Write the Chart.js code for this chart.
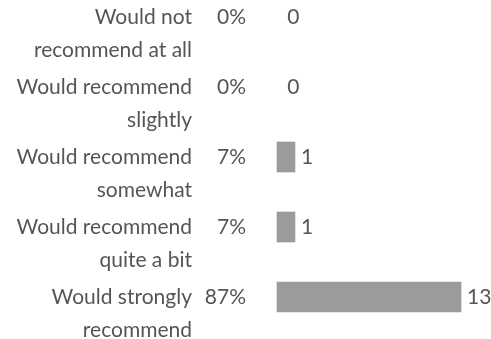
<!DOCTYPE html>
<html>
<head>
<meta charset="utf-8">
<script src="https://cdn.jsdelivr.net/npm/chart.js@4/dist/chart.umd.min.js"></script>
<style>
  html, body { margin: 0; padding: 0; background: #ffffff; }
  #wrap { width: 491px; height: 339px; position: relative; }
</style>
</head>
<body>
<div id="wrap"><canvas id="chart"></canvas></div>
<script>
// Answer options, each split over two lines
const categories = [
  ['Would not', 'recommend at all'],
  ['Would recommend', 'slightly'],
  ['Would recommend', 'somewhat'],
  ['Would recommend', 'quite a bit'],
  ['Would strongly', 'recommend']
];
// Number of responses per option
const counts = [0, 0, 1, 1, 13];
// Share of responses shown beside each option
const percentLabels = ['0%', '0%', '7%', '7%', '87%'];

const TEXT_COLOR = '#555555';
const BAR_COLOR = '#9b9b9b';
const FONT = '21px Lato, "Open Sans", sans-serif';

// Draws the option names, percentages and counts next to each row
const rowLabels = {
  id: 'rowLabels',
  afterDatasetsDraw(chart) {
    const { ctx } = chart;
    const yScale = chart.scales.y;
    const meta = chart.getDatasetMeta(0);
    ctx.save();
    ctx.font = FONT;
    ctx.fillStyle = TEXT_COLOR;
    ctx.textBaseline = 'middle';
    categories.forEach((lines, i) => {
      const y = yScale.getPixelForValue(i);
      ctx.textAlign = 'right';
      lines.forEach((line, j) => ctx.fillText(line, 192, y + j * 33));
      ctx.fillText(percentLabels[i], 246, y);
      ctx.textAlign = 'left';
      const bar = meta.data[i];
      ctx.fillText(String(counts[i]), bar.x + 6, y);
    });
    ctx.restore();
  }
};

new Chart(document.getElementById('chart'), {
  type: 'bar',
  data: {
    labels: categories.map(l => l.join(' ')),
    datasets: [{
      data: counts,
      base: -0.3,
      barThickness: 30,
      clip: false,
      borderWidth: 0,
      backgroundColor: c => (c.raw > 0 ? BAR_COLOR : 'rgba(0,0,0,0)')
    }]
  },
  options: {
    indexAxis: 'y',
    responsive: true,
    maintainAspectRatio: false,
    animation: false,
    layout: { padding: { left: 277, right: 30, top: 17, bottom: 42 } },
    plugins: { legend: { display: false }, tooltip: { enabled: false } },
    scales: {
      x: { type: 'linear', min: -0.3, max: 13, display: false },
      y: { type: 'category', offset: false, display: false }
    }
  },
  plugins: [rowLabels]
});
</script>
</body>
</html>
